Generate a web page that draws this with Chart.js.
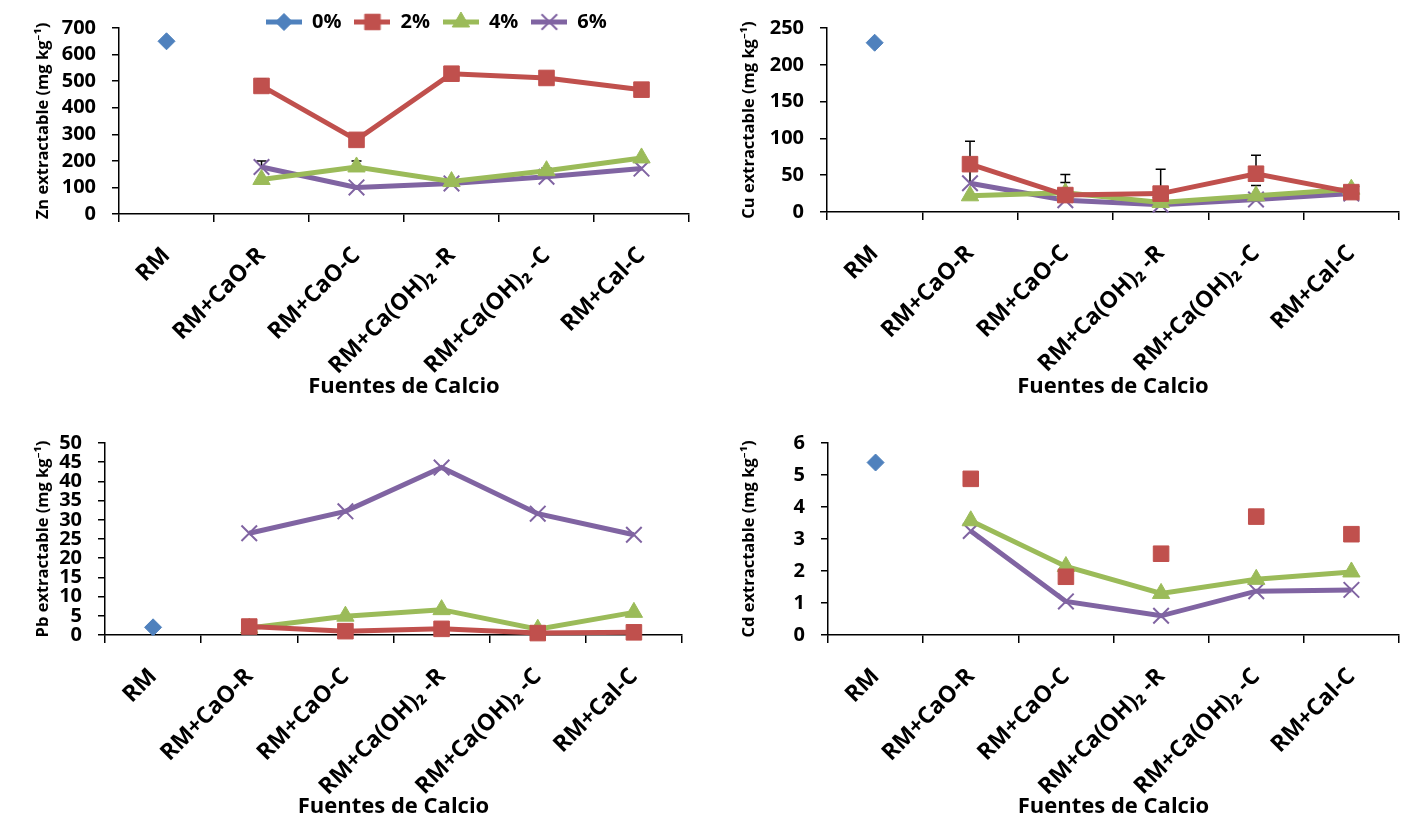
<!DOCTYPE html>
<html lang="es">
<head>
<meta charset="UTF-8">
<title>Metales extractables - Fuentes de Calcio</title>
<script src="https://cdn.jsdelivr.net/npm/chart.js@4"></script>
<style>
  body { margin: 0; background: #fff; }
  .wrap { position: relative; width: 1412px; height: 820px; }
  canvas { position: absolute; }
</style>
</head>
<body>
<div class="wrap">
  <canvas id="zn" width="706" height="410" style="left:0;top:0"></canvas>
  <canvas id="cu" width="706" height="410" style="left:706px;top:0"></canvas>
  <canvas id="pb" width="706" height="410" style="left:0;top:410px"></canvas>
  <canvas id="cd" width="706" height="410" style="left:706px;top:410px"></canvas>
</div>
<script>
// categories + series
const categories = ['RM', 'RM+CaO-R', 'RM+CaO-C', 'RM+Ca(OH)₂ -R', 'RM+Ca(OH)₂ -C', 'RM+Cal-C'];
const seriesNames = ['0%', '2%', '4%', '6%'];

// Zn (mg/kg)
const zn0 = [650, null, null, null, null, null];
const zn2 = [null, 482, 279, 528, 512, 468];
const zn4 = [null, 130, 177, 122, 163, 211];
const zn6 = [null, 177, 100, 115, 140, 171];
const znErr2 = [null, 27, null, 25, null, null];
const znErr4 = [null, null, 22, null, 10, null];
const znErr6 = [null, 22, null, 18, null, null];

// Cu (mg/kg)
const cu0 = [230, null, null, null, null, null];
const cu2 = [null, 65, 23, 25, 52, 27];
const cu4 = [null, 22, 26, 13, 22, 31];
const cu6 = [null, 39, 16, 10, 17, 25];
const cuErr2 = [null, 31, 28, 33, 25, null];
const cuErr4 = [null, null, 14, null, 14, null];
const cuErr6 = [null, 24, null, null, null, null];

// Pb (mg/kg)
const pb0 = [2.0, null, null, null, null, null];
const pb2 = [null, 2.2, 1.0, 1.6, 0.5, 0.7];
const pb4 = [null, 1.8, 4.9, 6.6, 1.5, 5.9];
const pb6 = [null, 26.5, 32.2, 43.6, 31.6, 26.1];

// Cd (mg/kg)
const cd0 = [5.39, null, null, null, null, null];
const cd2 = [null, 4.88, 1.82, 2.54, 3.70, 3.15];
const cd4 = [null, 3.57, 2.14, 1.30, 1.74, 1.97];
const cd6 = [null, 3.25, 1.05, 0.60, 1.37, 1.41];

const FONT = "'Open Sans', 'Noto Sans', 'DejaVu Sans', sans-serif";
Chart.defaults.font.family = FONT;
Chart.defaults.color = '#000';

const styles = [
    { color: '#4F81BD', point: 'rectRot', radius: 8.5, bw: 1 },
    { color: '#C0504D', point: 'rect', radius: 11, bw: 1 },
    { color: '#9BBB59', point: 'triangle', radius: 10, bw: 1 },
    { color: '#8064A2', point: 'crossRot', radius: 11, bw: 2 },
];

function legendIcon(s) {
    const c = document.createElement('canvas');
    c.width = 36;
    c.height = 24;
    const ctx = c.getContext('2d');
    ctx.strokeStyle = s.color;
    ctx.lineWidth = 5;
    ctx.beginPath();
    ctx.moveTo(0, 12);
    ctx.lineTo(36, 12);
    ctx.stroke();
    ctx.fillStyle = s.color;
    ctx.lineWidth = s.bw;
    Chart.helpers.drawPoint(ctx, { pointStyle: s.point, radius: s.radius, borderWidth: s.bw, rotation: 0 }, 18, 12);
    return c;
}
const legendIcons = styles.map(legendIcon);

// error bars (plus only), drawn under the lines
const errorBars = {
    id: 'errorBars',
    beforeDatasetsDraw(chart) {
        const ctx = chart.ctx, xs = chart.scales.x, ys = chart.scales.y;
        ctx.save();
        ctx.strokeStyle = '#000';
        ctx.lineWidth = 1.5;
        chart.data.datasets.forEach(ds => {
            if (!ds.errUp) return;
            ds.data.forEach((v, i) => {
                const e = ds.errUp[i];
                if (v == null || e == null) return;
                const px = xs.getPixelForValue(i);
                const y0 = ys.getPixelForValue(v);
                const y1 = ys.getPixelForValue(v + e);
                ctx.beginPath();
                ctx.moveTo(px, y0);
                ctx.lineTo(px, y1);
                ctx.moveTo(px - 5, y1);
                ctx.lineTo(px + 5, y1);
                ctx.stroke();
            });
        });
        ctx.restore();
    }
};

// legend sits inside the plot, Excel style
const legendInPlot = {
    id: 'legendInPlot',
    beforeLayout(chart) {
        const lg = chart.legend;
        if (!lg || lg._patched) return;
        const fit = lg.fit;
        lg.fit = function () { fit.call(this); this.height = 0; };
        lg._patched = true;
    },
    afterLayout(chart, args, opts) {
        const lg = chart.legend;
        if (!lg || opts.x == null) return;
        lg.left = opts.x - 13;
        lg.right = lg.left + 600;
        lg.top = opts.y - 13 - 10;
        lg.bottom = lg.top + 50;
    }
};

function buildChart(id, cfg) {
    const datasets = cfg.series.map((d, k) => {
        const s = styles[k];
        return {
            label: seriesNames[k],
            data: d,
            errUp: cfg.err ? cfg.err[k] : null,
            borderColor: s.color,
            backgroundColor: s.color,
            borderWidth: 5,
            pointStyle: s.point,
            pointRadius: s.radius,
            pointHoverRadius: s.radius,
            pointBackgroundColor: s.color,
            pointBorderColor: s.color,
            pointBorderWidth: s.bw,
            showLine: cfg.noLine ? !cfg.noLine.includes(k) : true,
            tension: 0,
            clip: false,
        };
    });

    return new Chart(document.getElementById(id), {
        type: 'line',
        data: { labels: categories, datasets },
        options: {
            responsive: false,
            animation: false,
            devicePixelRatio: 1,
            layout: { padding: { top: cfg.box.top, right: cfg.box.right, left: 0, bottom: 0 } },
            plugins: {
                tooltip: { enabled: false },
                legend: {
                    display: !!cfg.legend,
                    position: 'top',
                    align: 'start',
                    labels: {
                        usePointStyle: true,
                        pointStyleWidth: 36,
                        padding: 13,
                        color: '#000',
                        font: { size: 20, weight: 'bold' },
                        generateLabels: chart => Chart.defaults.plugins.legend.labels.generateLabels(chart)
                            .map(l => Object.assign(l, { pointStyle: legendIcons[l.datasetIndex] })),
                    },
                },
                legendInPlot: cfg.legend || {},
            },
            scales: {
                x: {
                    type: 'category',
                    offset: true,
                    border: { display: true, color: '#000', width: 1.5 },
                    grid: { display: true, drawOnChartArea: false, drawTicks: true, tickLength: 8, color: '#000', lineWidth: 1.5, offset: true },
                    ticks: { autoSkip: false, minRotation: 45, maxRotation: 45, padding: 20, color: '#000', font: { size: 23, weight: 'bold' } },
                    title: { display: true, text: 'Fuentes de Calcio', color: '#000', font: { size: 22, weight: 'bold' }, padding: { top: 0, bottom: cfg.box.xTitlePad } },
                    afterFit: sc => { sc.height = cfg.box.bottom; },
                },
                y: {
                    min: 0,
                    max: cfg.yMax,
                    border: { display: true, color: '#000', width: 1.5 },
                    grid: { display: true, drawOnChartArea: false, drawTicks: true, tickLength: 7, color: '#000', lineWidth: 1.5 },
                    ticks: { stepSize: cfg.yStep, autoSkip: false, padding: 16, color: '#000', font: { size: 20, weight: 'bold' } },
                    title: { display: true, text: cfg.yTitle, color: '#000', font: { size: 16.5, weight: 'bold' }, padding: { top: 33, bottom: 0 } },
                    afterFit: sc => { sc.width = cfg.box.left; },
                },
            },
        },
        plugins: [errorBars, legendInPlot],
    });
}

buildChart('zn', {
    series: [zn0, zn2, zn4, zn6],
    err: [null, znErr2, znErr4, znErr6],
    yMax: 700, yStep: 100,
    yTitle: 'Zn extractable (mg kg⁻¹)',
    box: { left: 119, right: 17, top: 21, bottom: 196, xTitlePad: 10 },
    legend: { x: 266, y: 22 },
});

buildChart('cu', {
    series: [cu0, cu2, cu4, cu6],
    err: [null, cuErr2, cuErr4, cuErr6],
    yMax: 250, yStep: 50,
    yTitle: 'Cu extractable (mg kg⁻¹)',
    box: { left: 121, right: 11, top: 20, bottom: 198, xTitlePad: 10 },
});

buildChart('pb', {
    series: [pb0, pb2, pb4, pb6],
    yMax: 50, yStep: 5,
    yTitle: 'Pb extractable (mg kg⁻¹)',
    box: { left: 105, right: 24, top: 33, bottom: 185, xTitlePad: 0 },
});

buildChart('cd', {
    series: [cd0, cd2, cd4, cd6],
    noLine: [1],
    yMax: 6, yStep: 1,
    yTitle: 'Cd extractable (mg kg⁻¹)',
    box: { left: 122, right: 12, top: 33, bottom: 185, xTitlePad: 0 },
});
</script>
</body>
</html>
